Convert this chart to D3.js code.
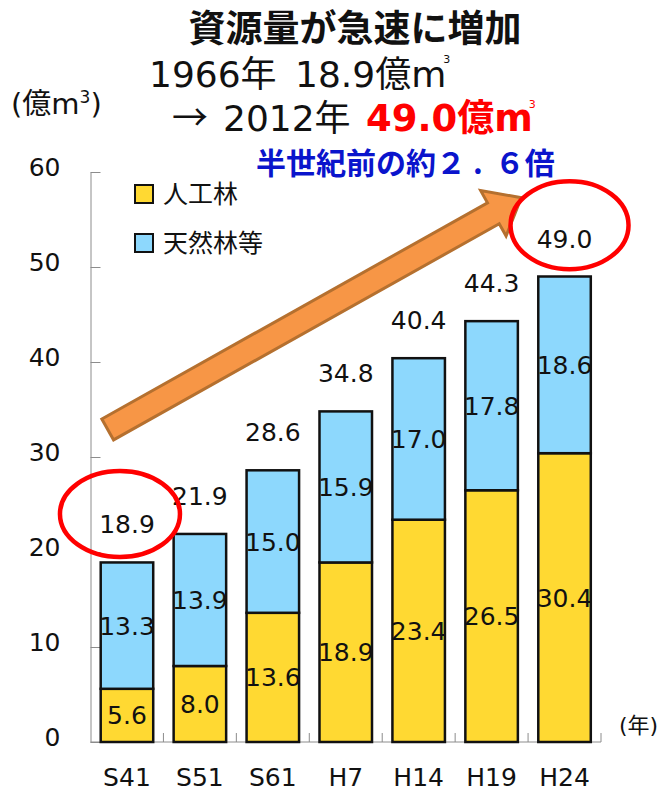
<!DOCTYPE html>
<html>
<head>
<meta charset="utf-8">
<script src="https://cdn.jsdelivr.net/npm/d3@7"></script>
<style>
  html, body { margin: 0; padding: 0; background: #fff; }
  svg { display: block; }
</style>
</head>
<body>
<svg id="chart" width="666" height="790"></svg>
<script>
// Forest resource volume (100 million m3) by survey year
const categories = ["S41", "S51", "S61", "H7", "H14", "H19", "H24"];
const plantedValues = [5.6, 8.0, 13.6, 18.9, 23.4, 26.5, 30.4];   // 人工林
const naturalValues = [13.3, 13.9, 15.0, 15.9, 17.0, 17.8, 18.6]; // 天然林等
const totalValues = [18.9, 21.9, 28.6, 34.8, 40.4, 44.3, 49.0];
const yTicks = [0, 10, 20, 30, 40, 50, 60];
const seriesNames = ["人工林", "天然林等"];

const COLORS = { planted: "#FFD932", natural: "#8DD8FD" };
const NUM_FONT = "'DejaVu Sans', Verdana, sans-serif";
const JP_FONT = "'Noto Sans CJK JP', 'Noto Sans', sans-serif";
const HEAD_FONT = NUM_FONT + ", " + JP_FONT;
const NUM_SIZE = 25;

const svg = d3.select("#chart");

const x = d3.scaleBand()
  .domain(categories)
  .range([90.5, 601])
  .paddingInner(0.28)
  .paddingOuter(0.14);

const y = d3.scaleLinear().domain([0, 60]).range([742, 172]);

// ---- axes (ticks point inward) ----
const yAxis = d3.axisLeft(y).tickValues(yTicks).tickSizeInner(-10).tickSizeOuter(0).tickFormat(d3.format("d"));
const gy = svg.append("g").attr("transform", "translate(90.5,0)").call(yAxis);
gy.select(".domain").attr("stroke", "#8c8c8c");
gy.selectAll(".tick line").attr("stroke", "#8c8c8c");
gy.selectAll(".tick text")
  .attr("x", -30).attr("dy", "0.15em")
  .attr("text-anchor", "end")
  .attr("font-family", NUM_FONT).attr("font-size", NUM_SIZE).attr("fill", "#111");

// x axis baseline with inward ticks at the category boundaries
const boundaries = categories.slice(1).map(c => x(c) - x.step() * x.paddingInner() / 2);
boundaries.push(x.range()[1]);
svg.append("line")
  .attr("x1", x.range()[0]).attr("x2", x.range()[1]).attr("y1", y(0)).attr("y2", y(0))
  .attr("stroke", "#8c8c8c");
svg.append("g").selectAll("line").data(boundaries).join("line")
  .attr("x1", d => d).attr("x2", d => d)
  .attr("y1", y(0)).attr("y2", y(0) - 9)
  .attr("stroke", "#8c8c8c");

svg.append("g").selectAll("text").data(categories).join("text")
  .attr("x", d => x(d) + x.bandwidth() / 2)
  .attr("y", 786)
  .attr("text-anchor", "middle")
  .attr("font-family", NUM_FONT).attr("font-size", NUM_SIZE).attr("fill", "#111")
  .text(d => d);

// ---- stacked bars ----
const rows = categories.map((c, i) => ({ cat: c, planted: plantedValues[i], natural: naturalValues[i], total: totalValues[i] }));
const stack = d3.stack().keys(["planted", "natural"])(rows);
const fills = [COLORS.planted, COLORS.natural];

const layers = svg.append("g").selectAll("g").data(stack).join("g")
  .attr("fill", (d, i) => fills[i]);
layers.selectAll("rect").data(d => d).join("rect")
  .attr("x", d => x(d.data.cat))
  .attr("width", x.bandwidth())
  .attr("y", d => y(d[1]))
  .attr("height", d => y(d[0]) - y(d[1]))
  .attr("stroke", "#111").attr("stroke-width", 2.5);

// segment value labels
layers.selectAll("text").data(d => d.map(s => ({ s, key: d.key }))).join("text")
  .attr("x", d => x(d.s.data.cat) + x.bandwidth() / 2)
  .attr("y", d => (y(d.s[0]) + y(d.s[1])) / 2 + 9)
  .attr("text-anchor", "middle")
  .attr("font-family", NUM_FONT).attr("font-size", NUM_SIZE).attr("fill", "#111")
  .text(d => d3.format(".1f")(d.s.data[d.key]));

// total labels above bars
svg.append("g").selectAll("text").data(rows).join("text")
  .attr("x", d => x(d.cat) + x.bandwidth() / 2)
  .attr("y", d => y(d.total) - 29)
  .attr("text-anchor", "middle")
  .attr("font-family", NUM_FONT).attr("font-size", NUM_SIZE).attr("fill", "#111")
  .text(d => d3.format(".1f")(d.total));

// ---- legend ----
const legend = svg.append("g").selectAll("g").data(seriesNames).join("g")
  .attr("transform", (d, i) => `translate(135,${185 + i * 49})`);
legend.append("rect").attr("width", 18).attr("height", 18)
  .attr("fill", (d, i) => fills[i]).attr("stroke", "#111").attr("stroke-width", 2);
legend.append("text").attr("x", 28).attr("y", 18)
  .attr("font-family", JP_FONT).attr("font-size", 25).attr("fill", "#111")
  .text(d => d);

// ---- annotations: growth arrow and highlight ellipses ----
const arrowFrom = { cat: "S41", value: 32.9, dx: 7 };
const arrowTo = { cat: "H24", value: 57.3, dx: -17 };
const ax0 = x(arrowFrom.cat) + arrowFrom.dx, ay0 = y(arrowFrom.value);
const ax1 = x(arrowTo.cat) + arrowTo.dx, ay1 = y(arrowTo.value);
const len = Math.hypot(ax1 - ax0, ay1 - ay0);
const ang = Math.atan2(ay1 - ay0, ax1 - ax0) * 180 / Math.PI;
const shaftHalf = 12, headHalf = 26, headLen = 32;
svg.append("path")
  .attr("transform", `translate(${ax0},${ay0}) rotate(${ang})`)
  .attr("d", `M0,${-shaftHalf} L${len - headLen},${-shaftHalf} L${len - headLen},${-headHalf} L${len},0 L${len - headLen},${headHalf} L${len - headLen},${shaftHalf} L0,${shaftHalf} Z`)
  .attr("fill", "#F79646").attr("stroke", "#B5702F").attr("stroke-width", 3)
  .attr("stroke-linejoin", "miter");

const ellipses = [
  { cat: "S41", value: 24.0, dx: -7, rx: 60, ry: 43 },
  { cat: "H24", value: 54.4, dx: 5, rx: 59, ry: 44 }
];
svg.append("g").selectAll("ellipse").data(ellipses).join("ellipse")
  .attr("cx", d => x(d.cat) + x.bandwidth() / 2 + d.dx)
  .attr("cy", d => y(d.value))
  .attr("rx", d => d.rx).attr("ry", d => d.ry)
  .attr("fill", "none").attr("stroke", "#FF0000").attr("stroke-width", 4.5);

// ---- titles ----
svg.append("text").attr("x", 355).attr("y", 42)
  .attr("text-anchor", "middle")
  .attr("font-family", JP_FONT).attr("font-weight", 700).attr("font-size", 37).attr("fill", "#111")
  .text("資源量が急速に増加");

// "1966年 18.9億m³"
const line2 = svg.append("text").attr("y", 87)
  .attr("font-family", HEAD_FONT).attr("font-size", 36).attr("fill", "#111");
line2.append("tspan").attr("x", 149).text("1966年");
line2.append("tspan").attr("x", 295).text("18.9億m");
line2.append("tspan").attr("font-size", 11).attr("dx", -3).attr("dy", -24).text("3");

// "→ 2012年 49.0億m³"
const line3 = svg.append("text").attr("y", 131)
  .attr("font-family", HEAD_FONT).attr("font-size", 36).attr("fill", "#111");
line3.append("tspan").attr("x", 172).attr("font-family", JP_FONT).text("→");
line3.append("tspan").attr("x", 223).text("2012年");
line3.append("tspan").attr("x", 366).attr("fill", "#FF0000").attr("font-weight", 700).attr("font-size", 37).text("49.0億m");
line3.append("tspan").attr("fill", "#FF0000").attr("font-size", 11).attr("dx", -4).attr("dy", -23).text("3");

// "半世紀前の約２.６倍"
const note = svg.append("text").attr("y", 174)
  .attr("font-family", JP_FONT).attr("font-weight", 700).attr("font-size", 30).attr("fill", "#0A14CC");
note.append("tspan").attr("x", 256).text("半世紀前の約２");
note.append("tspan").attr("dx", 7).text(".");
note.append("tspan").attr("dx", 12).text("６倍");

const unit = svg.append("text").attr("x", 11).attr("y", 114)
  .attr("font-family", HEAD_FONT).attr("font-size", 29).attr("fill", "#111");
unit.append("tspan").text("(億m");
unit.append("tspan").attr("font-size", 17).attr("dy", -11).text("3");
unit.append("tspan").attr("dy", 11).text(")");

svg.append("text").attr("x", 619).attr("y", 733)
  .attr("font-family", HEAD_FONT).attr("font-size", 22).attr("fill", "#111")
  .text("(年)");
</script>
</body>
</html>
